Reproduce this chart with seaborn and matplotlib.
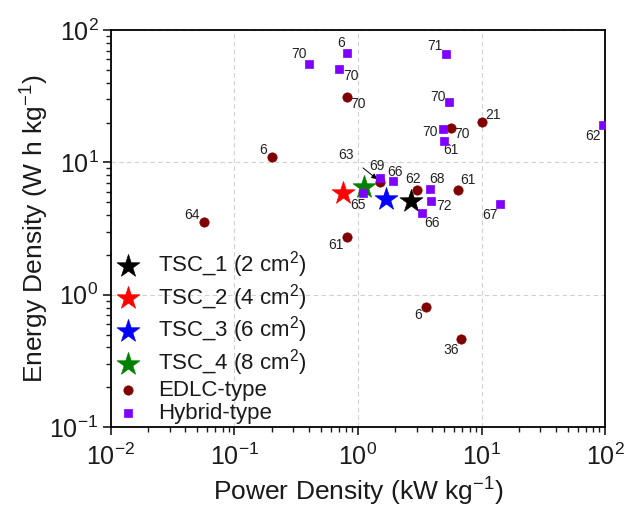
import matplotlib
matplotlib.use("Agg")
import matplotlib.pyplot as plt
import seaborn as sns
import pandas as pd
import numpy as np

# ---------------- data ----------------
tsc_names = ["TSC_1 (2 cm$^{2}$)", "TSC_2 (4 cm$^{2}$)", "TSC_3 (6 cm$^{2}$)", "TSC_4 (8 cm$^{2}$)"]
tsc_power = [2.70, 0.75, 1.69, 1.12]
tsc_energy = [5.15, 5.85, 5.31, 6.46]
tsc_colors = ["#000000", "#ff0000", "#0000ff", "#008000"]

edlc_power = [0.202, 0.81, 0.057, 0.81, 1.52, 3.02, 6.41, 5.66, 10.0, 3.53, 6.83]
edlc_energy = [10.9, 31.4, 3.54, 2.72, 7.13, 6.17, 6.17, 18.1, 20.1, 0.807, 0.466]
edlc_labels = ["6", "70", "64", "61", "", "62", "61", "70", "21", "6", "36"]

hyb_power = [0.404, 0.81, 0.707, 5.16, 5.42, 4.88, 4.94, 95.7, 1.52, 1.92, 1.10,
             3.83, 3.93, 3.32, 14.0]
hyb_energy = [55.1, 67.0, 51.0, 65.6, 28.7, 18.0, 14.4, 19.0, 7.67, 7.24, 5.85,
              6.31, 5.15, 4.11, 4.83]
hyb_labels = ["70", "6", "70", "71", "70", "70", "61", "62", "69", "66", "65",
              "68", "72", "66", "67"]

# label offsets (display pixels) -- layout only
edlc_off = [(-9, 7), (11, -7), (-12, 7), (-11, -8), (0, 0), (-4, 11), (10, 10),
            (11, -6), (11, 7), (-8, -8), (-10, -11)]
hyb_off = [(-10, 10), (-6, 10), (12, -7), (-11, 8), (-11, 5), (-13, -3), (7, -9),
           (-10, -11), (-4, 12), (2, 9), (-5, -12), (7, 10), (13, -5), (10, -10), (-10, -11)]

# ---------------- style ----------------
sns.set_style("white")
plt.rcParams['font.family'] = ['Liberation Sans', 'DejaVu Sans']
plt.rcParams['mathtext.fontset'] = 'custom'
plt.rcParams['mathtext.rm'] = 'Liberation Sans'
plt.rcParams['mathtext.it'] = 'Liberation Sans:italic'
plt.rcParams['mathtext.bf'] = 'Liberation Sans:bold'
plt.rcParams['text.color'] = '#1a1a1a'
plt.rcParams['axes.labelcolor'] = '#1a1a1a'
plt.rcParams['xtick.color'] = '#1a1a1a'
plt.rcParams['ytick.color'] = '#1a1a1a'

fig = plt.figure(figsize=(6.27, 5.09), dpi=100)
ax = fig.add_axes([0.177, 0.161, 0.788, 0.780])

tsc_df = pd.DataFrame({"power": tsc_power, "energy": tsc_energy, "name": tsc_names})
edlc_df = pd.DataFrame({"power": edlc_power, "energy": edlc_energy})
hyb_df = pd.DataFrame({"power": hyb_power, "energy": hyb_energy})

for i in range(len(tsc_names)):
    sns.scatterplot(data=tsc_df.iloc[[i]], x="power", y="energy", ax=ax, marker="*",
                    s=300, color=tsc_colors[i], edgecolor=tsc_colors[i], linewidth=0.5,
                    label=tsc_names[i], zorder=3)
sns.scatterplot(data=edlc_df, x="power", y="energy", ax=ax, marker="o", s=45,
                color="#800000", edgecolor="#800000", linewidth=0.5, label="EDLC-type", zorder=4)
sns.scatterplot(data=hyb_df, x="power", y="energy", ax=ax, marker="s", s=32,
                color="#8000ff", edgecolor="#8000ff", linewidth=0.5, label="Hybrid-type", zorder=5)

for x, y, t, (dx, dy) in zip(edlc_power, edlc_energy, edlc_labels, edlc_off):
    if t:
        ax.annotate(t, (x, y), xytext=(dx, dy), textcoords="offset pixels",
                    ha="center", va="center", fontsize=10, color="#222222")
for x, y, t, (dx, dy) in zip(hyb_power, hyb_energy, hyb_labels, hyb_off):
    ax.annotate(t, (x, y), xytext=(dx, dy), textcoords="offset pixels",
                ha="center", va="center", fontsize=10, color="#222222")

# "63" with arrow to the EDLC point behind square 69
ax.annotate("63", (edlc_power[4], edlc_energy[4]), xytext=(-34, 27), textcoords="offset pixels",
            ha="center", va="center", fontsize=10, color="#222222",
            arrowprops=dict(arrowstyle="-|>", color="black", lw=0.7, mutation_scale=8,
                            shrinkA=5, shrinkB=3))

ax.set_xscale("log")
ax.set_yscale("log")
ax.set_xlim(1e-2, 1e2)
ax.set_ylim(1e-1, 1e2)

ax.grid(True, which="major", linestyle=(0, (4, 3)), color="#d0d0d0", linewidth=0.8)
ax.set_axisbelow(True)

for sp in ax.spines.values():
    sp.set_color("black")
    sp.set_linewidth(1.3)

ax.tick_params(axis="x", which="major", pad=6)
ax.tick_params(axis="y", which="major", pad=3)
ax.tick_params(axis="both", which="major", direction="out", length=6, width=1.2,
               labelsize=18, bottom=True, left=True, top=False, right=False)
ax.tick_params(axis="both", which="minor", direction="out", length=3.5, width=1.0,
               bottom=True, left=True, top=False, right=False)

ax.set_xlabel("Power Density (kW kg$^{-1}$)", fontsize=19, labelpad=4)
ax.set_ylabel("Energy Density (W h kg$^{-1}$)", fontsize=19, labelpad=-1)

leg = ax.legend(loc="lower left", bbox_to_anchor=(-0.02, -0.025), frameon=False,
                fontsize=16, handletextpad=0.75, labelspacing=0.08, borderaxespad=0.2,
                handlelength=1.2)

fig.savefig("out.png", dpi=100)
